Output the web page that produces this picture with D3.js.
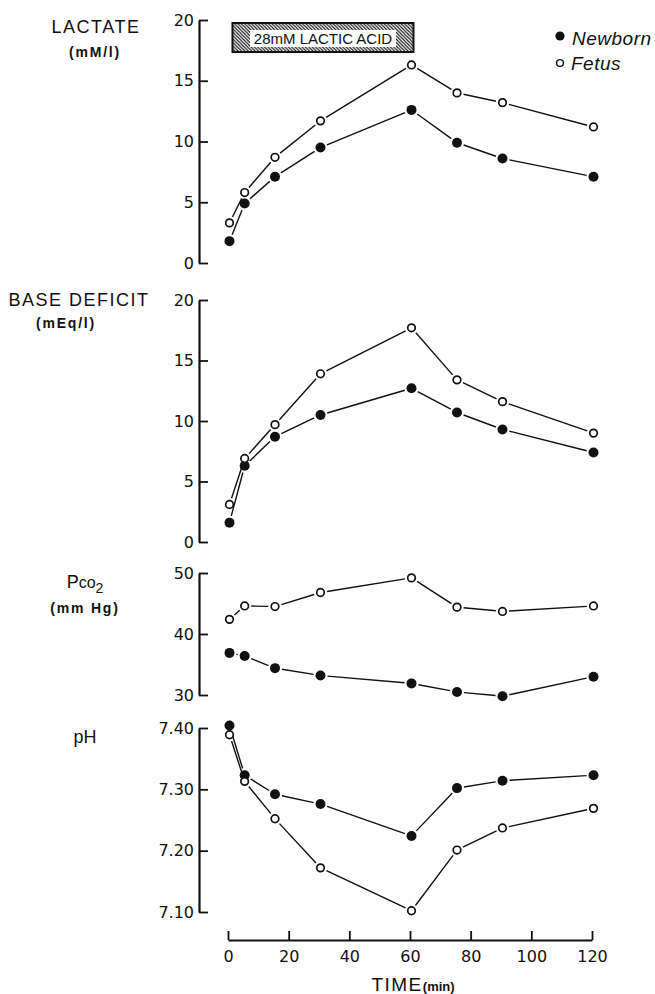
<!DOCTYPE html>
<html>
<head>
<meta charset="utf-8">
<script src="https://cdn.jsdelivr.net/npm/d3@7"></script>
<style>
  html, body { margin: 0; padding: 0; background: #fff; }
  svg { display: block; }
  text { font-family: "Liberation Sans", Arial, sans-serif; fill: #111; }
</style>
</head>
<body>
<svg id="chart" width="655" height="994"></svg>
<script>
// ---------- DATA ----------
const timeMin = [0, 5, 15, 30, 60, 75, 90, 120];

const lactateNewborn = [1.8, 4.9, 7.1, 9.5, 12.6, 9.9, 8.6, 7.1];
const lactateFetus   = [3.3, 5.8, 8.7, 11.7, 16.3, 14.0, 13.2, 11.2];

const baseDeficitNewborn = [1.6, 6.3, 8.7, 10.5, 12.7, 10.7, 9.3, 7.4];
const baseDeficitFetus   = [3.1, 6.9, 9.7, 13.9, 17.7, 13.4, 11.6, 9.0];

const pco2Newborn = [36.9, 36.4, 34.4, 33.2, 31.9, 30.5, 29.8, 33.0];
const pco2Fetus   = [42.4, 44.6, 44.5, 46.8, 49.2, 44.4, 43.7, 44.6];

const phNewborn = [7.404, 7.323, 7.292, 7.276, 7.224, 7.302, 7.314, 7.323];
const phFetus   = [7.389, 7.313, 7.252, 7.172, 7.102, 7.201, 7.237, 7.269];

const lactateTicks = [0, 5, 10, 15, 20];
const baseDeficitTicks = [0, 5, 10, 15, 20];
const pco2Ticks = [30, 40, 50];
const phTicks = [7.10, 7.20, 7.30, 7.40];
const phTickLabels = ["7.10", "7.20", "7.30", "7.40"];
const timeTicks = [0, 20, 40, 60, 80, 100, 120];

const infusion = [0, 60];
const infusionLabel = "28mM LACTIC ACID";
const seriesNames = ["Newborn", "Fetus"];

// ---------- LAYOUT ----------
const svg = d3.select("#chart");
const axisX = 199;
const x = d3.scaleLinear().domain([0, 120]).range([228, 592]);
const xPt = v => x(v) + 1.5;   // plotted points sit slightly right of the ticks in the original

const panels = [
  { label: "LACTATE", unit: "(mM/l)", domain: [0, 20], range: [263, 20], ticks: lactateTicks,
    fmt: d => d, nb: lactateNewborn, fe: lactateFetus, lx: 96, ly: 33, ux: 95, uy: 57 },
  { label: "BASE DEFICIT", unit: "(mEq/l)", domain: [0, 20], range: [542, 300], ticks: baseDeficitTicks,
    fmt: d => d, nb: baseDeficitNewborn, fe: baseDeficitFetus, lx: 79, ly: 306, ux: 66, uy: 328 },
  { label: "Pco2", unit: "(mm Hg)", domain: [30, 50], range: [695, 573], ticks: pco2Ticks,
    fmt: d => d, nb: pco2Newborn, fe: pco2Fetus, lx: 85, ly: 588, ux: 85, uy: 613 },
  { label: "pH", unit: "", domain: [7.10, 7.40], range: [912, 728], ticks: phTicks,
    fmt: (d, i) => phTickLabels[i], nb: phNewborn, fe: phFetus, lx: 85, ly: 743, ux: 85, uy: 0 }
];

// hatch pattern
const defs = svg.append("defs");
const pat = defs.append("pattern").attr("id", "hatch")
  .attr("patternUnits", "userSpaceOnUse").attr("width", 3.4).attr("height", 3.4);
pat.append("path").attr("d", "M-1,-1 L4.4,4.4 M2.4,-1 L4.4,1 M-1,2.4 L1,4.4")
  .attr("stroke", "#111").attr("stroke-width", 1.1);

const rFilled = 5, rOpen = 4.6;

panels.forEach(p => {
  const y = d3.scaleLinear().domain(p.domain).range(p.range);
  const g = svg.append("g").attr("transform", `translate(${axisX},0)`);
  const axis = d3.axisLeft(y).tickValues(p.ticks).tickSizeInner(-9).tickSizeOuter(0)
    .tickPadding(5).tickFormat(p.fmt);
  g.call(axis);
  g.select(".domain").attr("stroke", "#111").attr("stroke-width", 2.2);
  g.selectAll(".tick line").attr("stroke", "#111").attr("stroke-width", 1.8);
  g.selectAll(".tick text").attr("fill", "#111")
    .style("font-family", "'DejaVu Sans', sans-serif").style("font-size", "16px");

  // panel label
  if (p.label === "Pco2") {
    const t = svg.append("text").attr("x", p.lx).attr("y", p.ly).attr("text-anchor", "middle")
      .style("font-size", "18px");
    t.append("tspan").text("P");
    t.append("tspan").text("co").style("font-size", "16px");
    t.append("tspan").text("2").attr("dy", 5).style("font-size", "14px");
  } else {
    svg.append("text").attr("x", p.lx).attr("y", p.ly).attr("text-anchor", "middle")
      .style("font-size", "18px").style("letter-spacing", p.label === "pH" ? "0px" : "1.5px")
      .text(p.label);
  }
  if (p.unit) {
    svg.append("text").attr("x", p.ux).attr("y", p.uy).attr("text-anchor", "middle")
      .style("font-size", "14px").style("font-weight", "bold").style("letter-spacing", "1.8px")
      .text(p.unit);
  }

  // series
  [[p.nb, true], [p.fe, false]].forEach(([vals, filled]) => {
    const pts = vals.map((v, i) => [xPt(timeMin[i]), y(v)]);
    const segs = d3.pairs(pts).map(([a, b]) => {
      const dx = b[0] - a[0], dy = b[1] - a[1], L = Math.hypot(dx, dy);
      const ra = (filled ? rFilled : rOpen) + 2, rb = ra;
      if (L <= ra + rb) return null;
      return [a[0] + dx * ra / L, a[1] + dy * ra / L, b[0] - dx * rb / L, b[1] - dy * rb / L];
    }).filter(Boolean);
    svg.append("g").selectAll("line").data(segs).join("line")
      .attr("x1", d => d[0]).attr("y1", d => d[1]).attr("x2", d => d[2]).attr("y2", d => d[3])
      .attr("stroke", "#111").attr("stroke-width", 1.4);
    svg.append("g").selectAll("circle").data(pts).join("circle")
      .attr("cx", d => d[0]).attr("cy", d => d[1])
      .attr("r", filled ? rFilled : rOpen - 0.8)
      .attr("fill", filled ? "#111" : "#fff")
      .attr("stroke", "#111").attr("stroke-width", filled ? 0 : 1.7);
  });
});

// infusion bar
const barX0 = xPt(infusion[0]) + 3, barX1 = xPt(infusion[1]) + 2;
svg.append("rect").attr("x", barX0).attr("y", 23).attr("width", barX1 - barX0).attr("height", 29)
  .attr("fill", "url(#hatch)").attr("stroke", "#111").attr("stroke-width", 2);
const midX = (barX0 + barX1) / 2;
svg.append("rect").attr("x", midX - 73).attr("y", 30).attr("width", 146).attr("height", 17)
  .attr("fill", "#fff");
svg.append("text").attr("x", midX).attr("y", 44).attr("text-anchor", "middle")
  .style("font-size", "15px").text(infusionLabel);

// legend
svg.append("circle").attr("cx", 560).attr("cy", 36).attr("r", 4.6).attr("fill", "#111");
svg.append("text").attr("x", 572).attr("y", 45).style("font-size", "19px").style("font-style", "italic")
  .style("letter-spacing", "0.5px").text(seriesNames[0]);
svg.append("circle").attr("cx", 560).attr("cy", 63).attr("r", 3.4).attr("fill", "#fff")
  .attr("stroke", "#111").attr("stroke-width", 1.4);
svg.append("text").attr("x", 571).attr("y", 70).style("font-size", "19px").style("font-style", "italic")
  .style("letter-spacing", "0.5px").text(seriesNames[1]);

// x axis
const gx = svg.append("g").attr("transform", "translate(0,940)");
gx.call(d3.axisBottom(x).tickValues(timeTicks).tickSizeInner(-9).tickSizeOuter(0).tickPadding(8));
gx.select(".domain").attr("stroke", "#111").attr("stroke-width", 2);
gx.selectAll(".tick line").attr("stroke", "#111").attr("stroke-width", 1.8);
gx.selectAll(".tick text").attr("fill", "#111").style("font-family", "'DejaVu Sans', sans-serif")
  .style("font-size", "16px").attr("dy", "0.85em");

const tl = svg.append("text").attr("x", 413).attr("y", 991).attr("text-anchor", "middle");
tl.append("tspan").text("TIME").style("font-size", "19px").style("letter-spacing", "1.5px");
tl.append("tspan").text("(min)").style("font-size", "13px").style("font-weight", "bold");
</script>
</body>
</html>
